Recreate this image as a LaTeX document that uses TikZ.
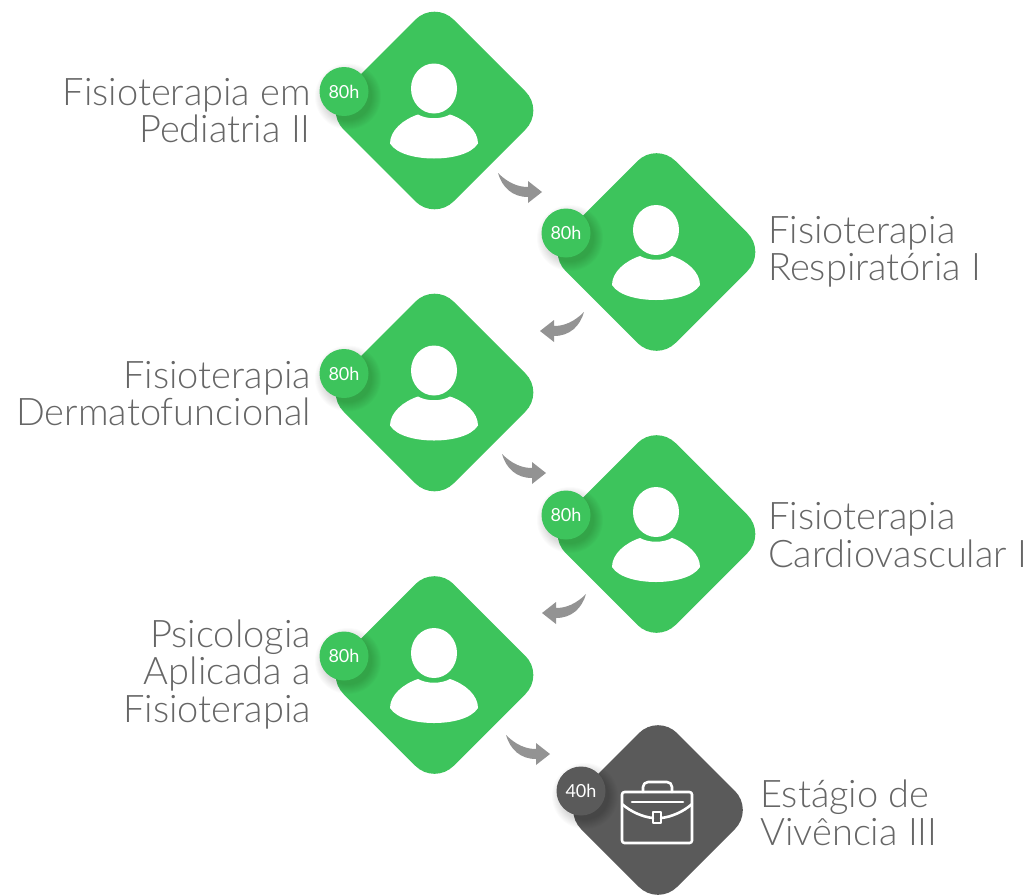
\documentclass[tikz,border=0pt]{standalone}
\usepackage{fontspec}
\setmainfont{Lato Light}
\newfontfamily\badgefont{Lato}
\usetikzlibrary{shapes.geometric,calc}
\definecolor{grn}{HTML}{3DC45C}
\definecolor{drk}{HTML}{5A5A5A}
\definecolor{arr}{HTML}{939393}
\definecolor{txt}{HTML}{666666}
\tikzset{
  x=1pt,y=-1pt,
  tile/.style={diamond,fill=#1,draw=none,minimum size=220pt,inner sep=0pt,outer sep=0pt,rounded corners=27pt},
  smalltile/.style={diamond,fill=#1,draw=none,minimum size=192pt,inner sep=0pt,outer sep=0pt,rounded corners=27pt},
  disc/.style={circle,fill=#1,draw=none,minimum size=49pt,inner sep=0pt,outer sep=0pt,text=white,font=\badgefont\fontsize{18}{18}\selectfont},
  lefttext/.style={anchor=east,align=right,inner sep=0pt,text=txt,font=\fontsize{38}{37.5}\selectfont},
  righttext/.style={anchor=west,align=left,inner sep=0pt,text=txt,font=\fontsize{38}{37.5}\selectfont},
  person/.pic={
    \fill[white] (1,-22) ellipse [x radius=23,y radius=25];
    \fill[white] (-15,4) .. controls (-6,9) and (8,9) .. (17,4)
      .. controls (32,9) and (45,20) .. (45,33)
      .. controls (38,44) and (18,48) .. (1,48)
      .. controls (-16,48) and (-36,44) .. (-43,33)
      .. controls (-43,20) and (-30,9) .. (-15,4) -- cycle;
  },
  briefcase/.pic={
    \begin{scope}[draw=white,line width=2.6pt,line join=round,line cap=round]
      \draw[rounded corners=2.5pt] (-21,-34) rectangle (49,17);
      \draw[rounded corners=5pt] (0,-34) -- (0,-44) -- (29,-44) -- (29,-34);
      \draw (-11,-24) -- (40,-24);
      \draw (-21,-22) .. controls (-12,-14) and (0,-9) .. (10,-8);
      \draw (18,-8) .. controls (28,-9) and (40,-14) .. (49,-22);
      \draw (10,-14) rectangle (18,-3);
    \end{scope}
  },
  bentarrow/.pic={
    \fill[arr] (0,0) .. controls (10,10) and (20,14) .. (30,14) -- (30,8) -- (44,19) -- (30,30) -- (30,24)
      .. controls (14,24) and (4,14) .. (0,0) -- cycle;
  },
}
\newcommand{\softshadow}[1]{%
  \foreach \rr in {33,32,31,30,29,28,27,26,25,24}{
    \fill[black,opacity=0.017] ($(#1)+(4,5)$) circle [radius=\rr];
  }%
}
\begin{document}
\begin{tikzpicture}
\useasboundingbox (0,0) rectangle (1032,894);
\clip (0,0) rectangle (1032,894);
% tiles
\node[tile=grn] (t1) at (434.5,110.5) {};
\node[tile=grn] (t2) at (656.5,252) {};
\node[tile=grn] (t3) at (434.5,392.5) {};
\node[tile=grn] (t4) at (656.5,534) {};
\node[tile=grn] (t5) at (434.5,675) {};
\node[smalltile=drk] (t6) at (658,810) {};
% icons
\foreach \n in {t1,t2,t3,t4,t5}{ \pic at ($(\n)+(-1.5,0)$) {person}; }
\pic at ($(t6)+(-15,16)$) {briefcase};
% badges
\foreach \n/\m in {t1/b1,t2/b2,t3/b3,t4/b4,t5/b5}{
  \coordinate (\m c) at ($(\n)+(-90.5,-19)$);
  \softshadow{\m c}
  \node[disc=grn] (\m) at (\m c) {80h};
}
\coordinate (b6c) at ($(t6)+(-77,-19)$);
\softshadow{b6c}
\node[disc=drk] (b6) at (b6c) {40h};
% labels
\node[lefttext] (l1) at (311,110.5) {Fisioterapia em\\Pediatria II};
\node[righttext] (l2) at (768,252) {Fisioterapia\\Respiratória I};
\node[lefttext] (l3) at (311,393.5) {Fisioterapia\\Dermatofuncional};
\node[righttext] (l4) at (768,535) {Fisioterapia\\Cardiovascular I};
\node[lefttext] (l5) at (311,674.5) {Psicologia\\Aplicada a\\Fisioterapia};
\node[righttext] (l6) at (760,813) {Estágio de\\Vivência III};
% arrows
\coordinate (a1) at (498,173);
\coordinate (a2) at (584,312);
\coordinate (a3) at (502,454);
\coordinate (a4) at (586,594);
\coordinate (a5) at (506,735);
\pic at (a1) {bentarrow};
\pic[xscale=-1] at (a2) {bentarrow};
\pic at (a3) {bentarrow};
\pic[xscale=-1] at (a4) {bentarrow};
\pic at (a5) {bentarrow};
\end{tikzpicture}
\end{document}
